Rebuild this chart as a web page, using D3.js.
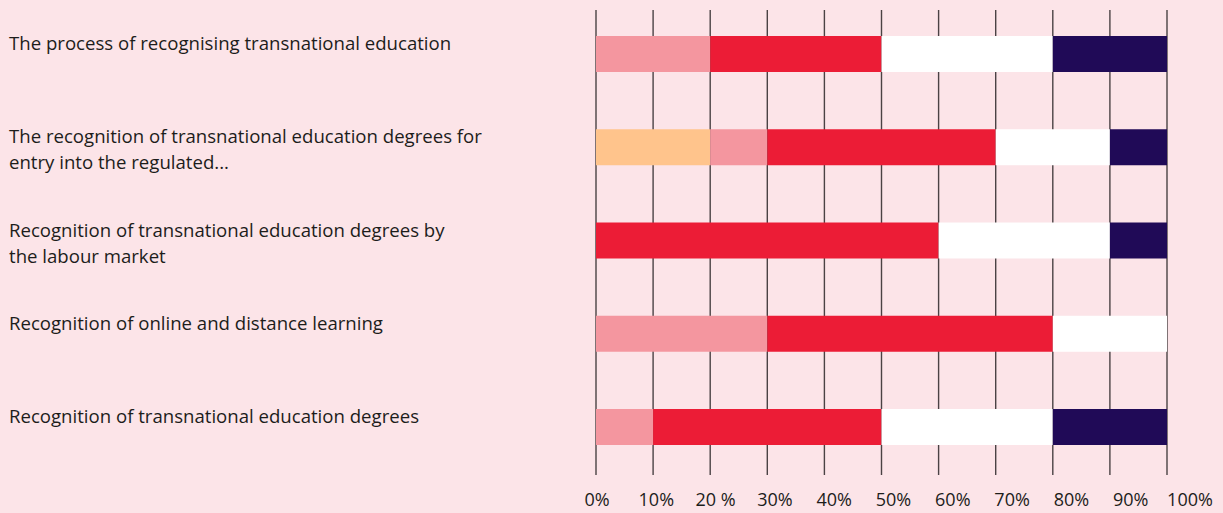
<!DOCTYPE html>
<html>
<head>
<meta charset="utf-8">
<script src="https://cdn.jsdelivr.net/npm/d3@7"></script>
<style>
  html, body { margin: 0; padding: 0; background: #fce4e8; }
  svg { display: block; font-family: "Open Sans", sans-serif; }
</style>
</head>
<body>
<div id="center"></div>
<script>
// categories (label lines), top to bottom
const categories = [
    "The process of recognising transnational education",
    "The recognition of transnational education degrees for entry into the regulated...",
    "Recognition of transnational education degrees by the labour market",
    "Recognition of online and distance learning",
    "Recognition of transnational education degrees"
];
const labelLines = [
    ["The process of recognising transnational education"],
    ["The recognition of transnational education degrees for", "entry into the regulated..."],
    ["Recognition of transnational education degrees by", "the labour market"],
    ["Recognition of online and distance learning"],
    ["Recognition of transnational education degrees"]
];
// series, in stacking order (percent)
const seriesNames = ["s1", "s2", "s3", "s4", "s5"];
const s1 = [0, 20, 0, 0, 0];
const s2 = [20, 10, 0, 30, 10];
const s3 = [30, 40, 60, 50, 40];
const s4 = [30, 20, 30, 20, 30];
const s5 = [20, 10, 10, 0, 20];
const tickValues = [0, 10, 20, 30, 40, 50, 60, 70, 80, 90, 100];
const tickLabels = ["0%", "10%", "20 %", "30%", "40%", "50%", "60%", "70%", "80%", "90%", "100%"];

const colors = {
    "s1": "#ffc48c",
    "s2": "#f4969f",
    "s3": "#ec1c36",
    "s4": "#ffffff",
    "s5": "#200a57"
};

let width = 1223;
let height = 513;
const svg = d3.select("#center").append("svg")
    .attr("width", width)
    .attr("height", height);

svg.append("rect").attr("width", width).attr("height", height).attr("fill", "#fce4e8");

let rows = categories.map(function (c, i) {
    return {cat: c, s1: s1[i], s2: s2[i], s3: s3[i], s4: s4[i], s5: s5[i]};
});
let stacked = d3.stack().keys(seriesNames)(rows);

let xlinear = d3.scaleLinear().domain([0, 100]).range([596, 1167]);
let xlabel = d3.scaleLinear().domain([0, 100]).range([597, 1190]);
let yband = d3.scaleBand().domain(categories).range([36, 445]).paddingInner(0.614).paddingOuter(0);

// grid lines
svg.append("g")
    .selectAll("line")
    .data(tickValues)
    .enter()
    .append("line")
    .attr("x1", function (d) { return xlinear(d); })
    .attr("x2", function (d) { return xlinear(d); })
    .attr("y1", 10)
    .attr("y2", 475)
    .attr("stroke", "#4a4244")
    .attr("stroke-width", 1.4);

// bars
svg.append("g")
    .selectAll("g")
    .data(stacked)
    .enter()
    .append("g")
    .attr("fill", function (d) { return colors[d.key]; })
    .selectAll("rect")
    .data(function (d) { return d; })
    .enter()
    .append("rect")
    .attr("x", function (d) { return xlinear(d[0]); })
    .attr("y", function (d) { return yband(d.data.cat); })
    .attr("width", function (d) { return xlinear(d[1]) - xlinear(d[0]); })
    .attr("height", yband.bandwidth());

// tick labels
svg.append("g")
    .selectAll("text")
    .data(tickValues)
    .enter()
    .append("text")
    .attr("x", function (d) { return xlabel(d); })
    .attr("y", 506)
    .attr("text-anchor", "middle")
    .attr("font-size", 18)
    .attr("fill", "#1d1d1b")
    .text(function (d, i) { return tickLabels[i]; });

// category labels
let labels = svg.append("g")
    .selectAll("text")
    .data(categories)
    .enter()
    .append("text")
    .attr("x", 9)
    .attr("y", function (d) { return yband(d) + 14; })
    .attr("font-size", 18.6)
    .attr("fill", "#1d1d1b");
labels.selectAll("tspan")
    .data(function (d, i) { return labelLines[i]; })
    .enter()
    .append("tspan")
    .attr("x", 9)
    .attr("dy", function (d, i) { return i === 0 ? 0 : 26; })
    .text(function (d) { return d; });
</script>
</body>
</html>
